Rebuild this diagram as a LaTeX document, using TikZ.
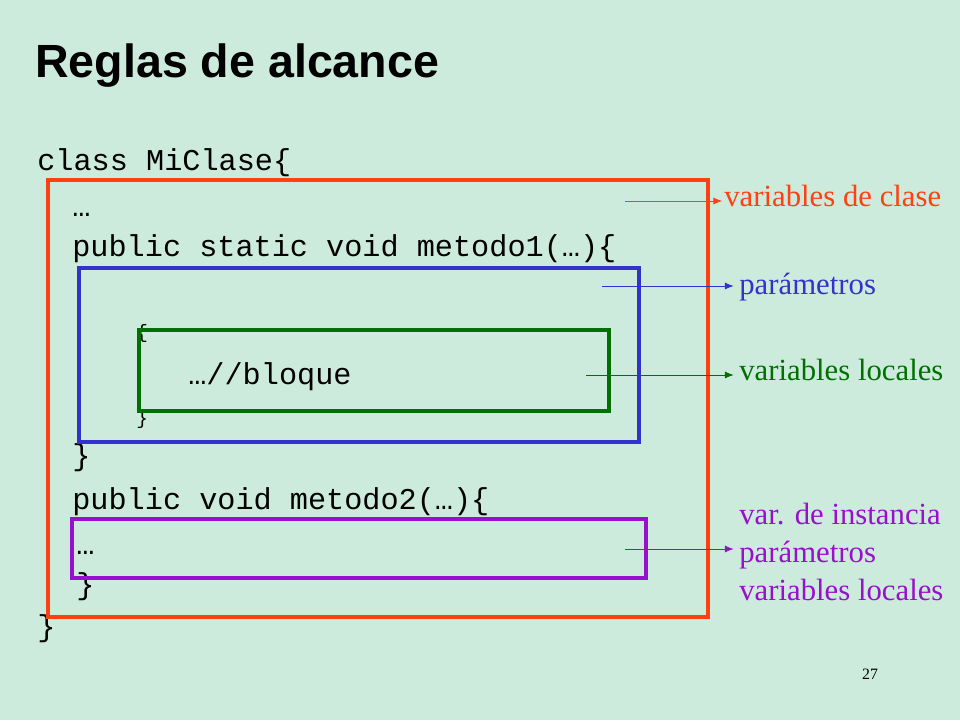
\documentclass[tikz,border=0pt]{standalone}
\usepackage{fontspec}
\setmainfont{Liberation Serif}
\setsansfont{Liberation Sans}
\setmonofont{Liberation Mono}
\usetikzlibrary{arrows.meta}
\definecolor{fondo}{HTML}{CCEBDD}
\definecolor{naranja}{HTML}{FF4010}
\definecolor{azul}{HTML}{3333CC}
\definecolor{verde}{HTML}{007000}
\definecolor{morado}{HTML}{9910CC}
\tikzset{
  codigo/.style={anchor=base west, inner sep=0pt, font=\ttfamily\fontsize{17.2}{18}\selectfont},
  etiqueta/.style={anchor=base west, inner sep=0pt, font=\fontsize{17.5}{20}\selectfont},
  caja/.style={line width=2pt},
  flecha/.style={-{Latex[length=5pt,width=4pt]}, line width=0.5pt}
}
\begin{document}
\begin{tikzpicture}[x=0.02cm,y=-0.02cm]
		\fill[fondo] (0,0) rectangle (960,720);
		\node[anchor=base west, inner sep=0pt, font=\sffamily\bfseries\fontsize{26.5}{30}\selectfont] (titulo) at (35,77) {Reglas de alcance};
		% codigo
		\node[codigo] (c1) at (37,170) {class MiClase\{};
		\node[codigo] (c2) at (72,216) {…};
		\node[codigo] (c3) at (72,256) {public static void metodo1(…)\{};
		\node[codigo, font=\ttfamily\fontsize{11}{12}\selectfont] (c4) at (136,338) {\{};
		\node[codigo] (c5) at (188,384) {…//bloque};
		\node[codigo, font=\ttfamily\fontsize{11}{12}\selectfont] (c6) at (136,424) {\}};
		\node[codigo] (c7) at (72,465) {\}};
		\node[codigo] (c8) at (72,509) {public void metodo2(…)\{};
		\node[codigo] (c9) at (76,554) {…};
		\node[codigo] (c10) at (76,594) {\}};
		\node[codigo] (c11) at (37,636) {\}};
		% cajas
		\draw[caja, naranja] (48,180) rectangle (708,617);
		\draw[caja, azul] (79,268) rectangle (639,442);
		\draw[caja, verde] (139,330) rectangle (609,411);
		\draw[caja, morado] (72,519) rectangle (646,578);
		% etiquetas
		\node[etiqueta, text=naranja] (clase) at (724,206) {variables de clase};
		\node[etiqueta, text=azul] (param) at (739,294) {parámetros};
		\node[etiqueta, text=verde] (locales) at (739,380) {variables locales};
		\node[etiqueta, text=morado, align=left, anchor=north west, font=\fontsize{17.5}{21.5}\selectfont] (instancia) at (739,503) {var. de instancia\\parámetros\\variables locales};
		\node[anchor=base, inner sep=0pt, font=\fontsize{9}{10}\selectfont] (pagina) at (870,679) {27};
		% flechas
		\coordinate (o1) at (625,201);
		\coordinate (o2) at (602,286);
		\coordinate (o3) at (586,375);
		\coordinate (o4) at (625,549);
		\draw[flecha, naranja] (o1) -- ([xshift=-1pt]clase.west |- o1);
		\draw[flecha, azul] (o2) -- ([xshift=-3pt]param.west |- o2);
		\draw[flecha, verde] (o3) -- ([xshift=-3pt]locales.west |- o3);
		\draw[flecha, morado] (o4) -- ([xshift=-3pt]instancia.west |- o4);
	\end{tikzpicture}
\end{document}
